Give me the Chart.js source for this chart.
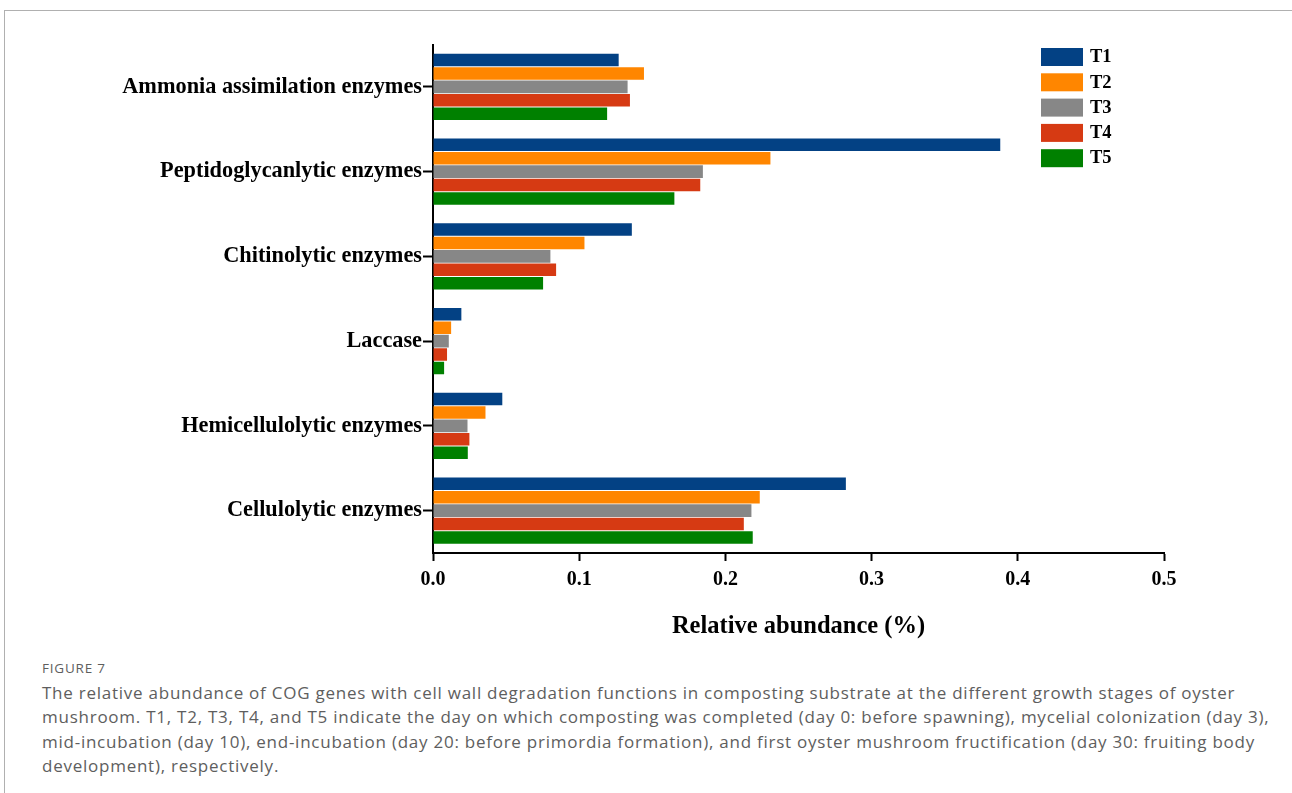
<!DOCTYPE html>
<html>
<head>
<meta charset="utf-8">
<script src="https://cdn.jsdelivr.net/npm/chart.js@4.4.1/dist/chart.umd.min.js"></script>
<style>
  html, body { margin: 0; padding: 0; background: #fff; }
  body { width: 1292px; height: 793px; position: relative; overflow: hidden; }
  .frame { position: absolute; left: 4px; top: 10px; width: 1300px; height: 800px;
           border-left: 1px solid #b0b0b0; border-top: 1px solid #b0b0b0; }
  #wrap { position: absolute; left: 0; top: 0; width: 1292px; height: 650px; }
  .cap { position: absolute; left: 42px; color: #5e5e5e; font-family: "Open Sans", "Noto Sans", sans-serif; }
  .fig { top: 659px; font-size: 13.5px; letter-spacing: 0.8px; }
  .txt { top: 681px; font-size: 17px; line-height: 24.3px; letter-spacing: 0.75px; white-space: nowrap; }
</style>
</head>
<body>
<div class="frame"></div>
<div id="wrap"><canvas id="c" width="1292" height="650"></canvas></div>
<div class="cap fig">FIGURE 7</div>
<div class="cap txt">The relative abundance of COG genes with cell wall degradation functions in composting substrate at the different growth stages of oyster<br>mushroom. T1, T2, T3, T4, and T5 indicate the day on which composting was completed (day 0: before spawning), mycelial colonization (day 3),<br>mid-incubation (day 10), end-incubation (day 20: before primordia formation), and first oyster mushroom fructification (day 30: fruiting body<br>development), respectively.</div>
<script>
// Enzyme groups (top to bottom)
const categories = [
  "Ammonia assimilation enzymes",
  "Peptidoglycanlytic enzymes",
  "Chitinolytic enzymes",
  "Laccase",
  "Hemicellulolytic enzymes",
  "Cellulolytic enzymes"
];

// Relative abundance (%) per sampling stage
const T1 = [0.127, 0.388, 0.136, 0.0194, 0.0474, 0.2824];
const T2 = [0.1443, 0.2308, 0.1036, 0.0124, 0.0359, 0.2235];
const T3 = [0.1331, 0.1846, 0.0803, 0.0108, 0.0236, 0.2178];
const T4 = [0.1347, 0.1828, 0.0842, 0.0096, 0.0249, 0.2126];
const T5 = [0.1191, 0.1651, 0.0753, 0.0076, 0.0238, 0.2187];

const seriesNames = ["T1", "T2", "T3", "T4", "T5"];
const seriesValues = [T1, T2, T3, T4, T5];
const seriesColors = ["#034184", "#ff8600", "#878787", "#d63a13", "#008000"];

const xTicks = [0, 0.1, 0.2, 0.3, 0.4, 0.5];

const SERIF = "'Liberation Serif', 'Times New Roman', serif";

// Legend drawn inside the plot area, top-right
const boxLegend = {
  id: "boxLegend",
  afterDraw(chart) {
    const ctx = chart.ctx;
    ctx.save();
    chart.data.datasets.forEach((ds, i) => {
      const y = 48 + i * 25.3;
      ctx.fillStyle = ds.backgroundColor;
      ctx.fillRect(1041, y, 42, 18);
      ctx.fillStyle = "#000";
      ctx.font = "bold 18.5px " + SERIF;
      ctx.textBaseline = "middle";
      ctx.textAlign = "left";
      ctx.fillText(ds.label, 1090, y + 9.5);
    });
    ctx.restore();
  }
};

new Chart(document.getElementById("c"), {
  type: "bar",
  data: {
    labels: categories,
    datasets: seriesNames.map((name, i) => ({
      label: name,
      data: seriesValues[i],
      backgroundColor: seriesColors[i],
      borderWidth: 0,
      barPercentage: 0.93,
      categoryPercentage: 0.795
    }))
  },
  options: {
    indexAxis: "y",
    responsive: false,
    animation: false,
    layout: { padding: { top: 44.5, right: 128, left: 0, bottom: 0 } },
    plugins: { legend: { display: false }, tooltip: { enabled: false } },
    scales: {
      x: {
        type: "linear",
        min: 0,
        max: 0.5,
        afterBuildTicks(scale) { scale.ticks = xTicks.map(v => ({ value: v })); },
        afterFit(scale) { scale.height = 650 - 553; },
        border: { display: true, color: "#000", width: 2 },
        grid: { drawOnChartArea: false, drawTicks: true, tickLength: 8, tickWidth: 2, tickColor: "#000" },
        ticks: {
          color: "#000",
          padding: 7,
          font: { family: SERIF, size: 20, weight: "bold" },
          callback: v => v.toFixed(1)
        },
        title: {
          display: true,
          text: "Relative abundance (%)",
          color: "#000",
          font: { family: SERIF, size: 24.5, weight: "bold" },
          padding: { top: 6, bottom: 9 }
        }
      },
      y: {
        afterFit(scale) { scale.width = 433; },
        border: { display: true, color: "#000", width: 2 },
        grid: { offset: false, drawOnChartArea: false, drawTicks: true, tickLength: 10, tickWidth: 2, tickColor: "#000" },
        ticks: {
          color: "#000",
          padding: 1,
          font: { family: SERIF, size: 22.3, weight: "bold" }
        }
      }
    }
  },
  plugins: [boxLegend]
});
</script>
</body>
</html>
